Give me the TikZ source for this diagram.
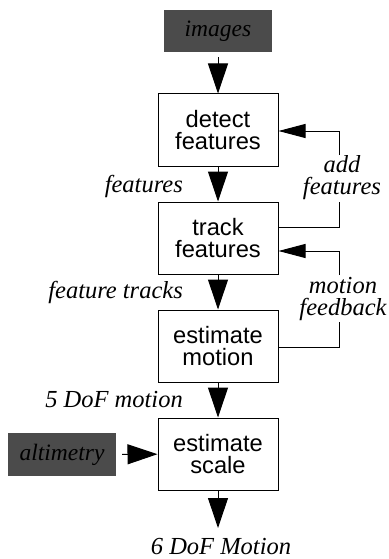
\documentclass[tikz,border=0pt]{standalone}
\usepackage{fontspec}
\setmainfont{Liberation Serif}
\newfontfamily\boxfont{Liberation Sans}
\usetikzlibrary{arrows.meta}
\definecolor{darkbox}{HTML}{4B4B4B}
\begin{document}
\begin{tikzpicture}[x=1pt,y=-1pt,
  proc/.style={draw,line width=1pt,minimum width=120pt,minimum height=72pt,inner sep=0pt,align=center,font=\boxfont\fontsize{23.7}{21.5}\selectfont},
  src/.style={fill=darkbox,minimum width=108pt,minimum height=42pt,inner sep=0pt,font=\itshape\fontsize{23.5}{20}\selectfont},
  lbl/.style={font=\itshape\fontsize{24.5}{22}\selectfont,inner sep=0pt,align=center},
  flow/.style={line width=1pt,-{Triangle[length=30pt,width=20pt]}},
  fb/.style={line width=1pt,-{Triangle[length=27pt,width=14pt]}},
  wire/.style={line width=1pt}]
\path[use as bounding box] (0,0) rectangle (388,559);
\node[src] (img) at (218,31) {images};
\node[proc] (det) at (218,130) {detect\\features};
\node[proc] (trk) at (218,238) {track\\features};
\node[proc] (mot) at (218,346) {estimate\\motion};
\node[proc] (scl) at (218,454) {estimate\\scale};
\node[src,minimum height=43pt] (alt) at (62,454.5) {altimetry};
\coordinate (out) at (218,528);
\node[lbl,anchor=base] (outl) at (221,554) {6 DoF Motion};
\draw[flow,shorten <=5pt] (img) -- (det);
\draw[flow] (det) -- (trk);
\draw[flow] (trk) -- (mot);
\draw[flow] (mot) -- (scl);
\draw[flow] (scl) -- (out);
\draw[flow,shorten <=6pt] (alt) -- (scl);
\node[lbl,anchor=base east] (lf) at (183,192) {features};
\node[lbl,anchor=base east] (lft) at (183,298) {feature tracks};
\node[lbl,anchor=base east] (l5) at (183,407) {5 DoF motion};
% add features loop
\coordinate (a1) at (339,227);
\coordinate (a2) at (339,202);
\coordinate (a3) at (339,155);
\coordinate (a4) at (339,131);
\node[lbl] (addl) at (342,178) {add\\features};
\draw[wire] (a1 -| trk.east) -- (a1) -- (a2);
\draw[fb] (a3) -- (a4) -- (a4 -| det.east);
% motion feedback loop
\coordinate (m1) at (339,347);
\coordinate (m2) at (339,322);
\coordinate (m3) at (339,275);
\coordinate (m4) at (339,251);
\node[lbl] (mfl) at (343,299) {motion\\feedback};
\draw[wire] (m1 -| mot.east) -- (m1) -- (m2);
\draw[fb] (m3) -- (m4) -- (m4 -| trk.east);
\end{tikzpicture}
\end{document}
